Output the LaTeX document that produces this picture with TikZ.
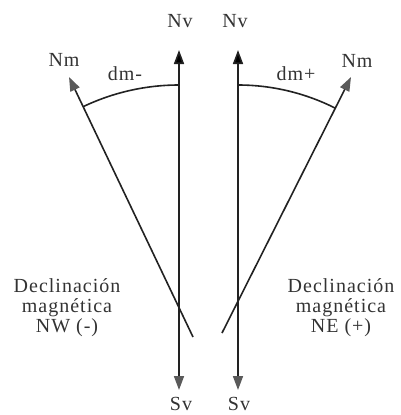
\documentclass[tikz,border=0pt]{standalone}
\usepackage{fontspec}
\setmainfont{Liberation Serif}
\newfontfamily\lblfont[LetterSpace=5]{Liberation Serif}
\usetikzlibrary{arrows.meta}
\definecolor{ln}{HTML}{222222}
\definecolor{tipgray}{HTML}{5A5A5A}
\definecolor{txt}{HTML}{333333}
\begin{document}
\begin{tikzpicture}[x=1pt,y=1pt,
  axis/.style={draw=ln, line width=1.6pt},
  blacktip/.style={-{Triangle[width=10pt,length=14pt,fill=black]}},
  graytip/.style={-{Triangle[width=10pt,length=14pt,color=tipgray]}},
  lbl/.style={text=txt, font=\fontsize{20}{20}\selectfont\lblfont, inner sep=0pt},
  desc/.style={text=txt, font=\fontsize{20}{20}\selectfont\lblfont, align=center, inner sep=0pt}]
\useasboundingbox (0,0) rectangle (401,-415);
% coordinates
\coordinate (lv) at (179,-220);
\coordinate (rv) at (238,-220);
\coordinate (lvtop) at (179,-50);
\coordinate (lvbot) at (179,-390);
\coordinate (rvtop) at (238,-50);
\coordinate (rvbot) at (238,-390);
\coordinate (lmstart) at (193,-337);
\coordinate (lmend) at (69,-77);
\coordinate (rmstart) at (222,-333);
\coordinate (rmend) at (351,-77);
\coordinate (cL) at (179,-308);
\coordinate (cR) at (238,-301);
% vertical axes
\draw[axis, blacktip] (lv) -- (lvtop);
\draw[axis, graytip] (lv) -- (lvbot);
\draw[axis, blacktip] (rv) -- (rvtop);
\draw[axis, graytip] (rv) -- (rvbot);
% magnetic north lines
\draw[axis, graytip] (lmstart) -- (lmend);
\draw[axis, graytip] (rmstart) -- (rmend);
% arcs
\draw[ln, line width=1.6pt] ([shift={(115.5:223)}]cL) arc[start angle=115.5, end angle=90, radius=223];
\draw[ln, line width=1.6pt] ([shift={(90:216)}]cR) arc[start angle=90, end angle=63.2, radius=216];
% labels
\node[lbl] (nv1) at (180,-21.5) {Nv};
\node[lbl] (nv2) at (235,-21.5) {Nv};
\node[lbl] (nm1) at (64,-60) {Nm};
\node[lbl] (nm2) at (357,-61) {Nm};
\node[lbl] (dm1) at (125,-74) {dm-};
\node[lbl] (dm2) at (296,-74) {dm+};
\node[lbl] (sv1) at (181,-404) {Sv};
\node[lbl] (sv2) at (239,-404) {Sv};
\node[desc] (dl) at (67,-308) {Declinación\\magnética\\NW (-)};
\node[desc] (dr) at (341,-308) {Declinación\\magnética\\NE (+)};
\end{tikzpicture}
\end{document}
